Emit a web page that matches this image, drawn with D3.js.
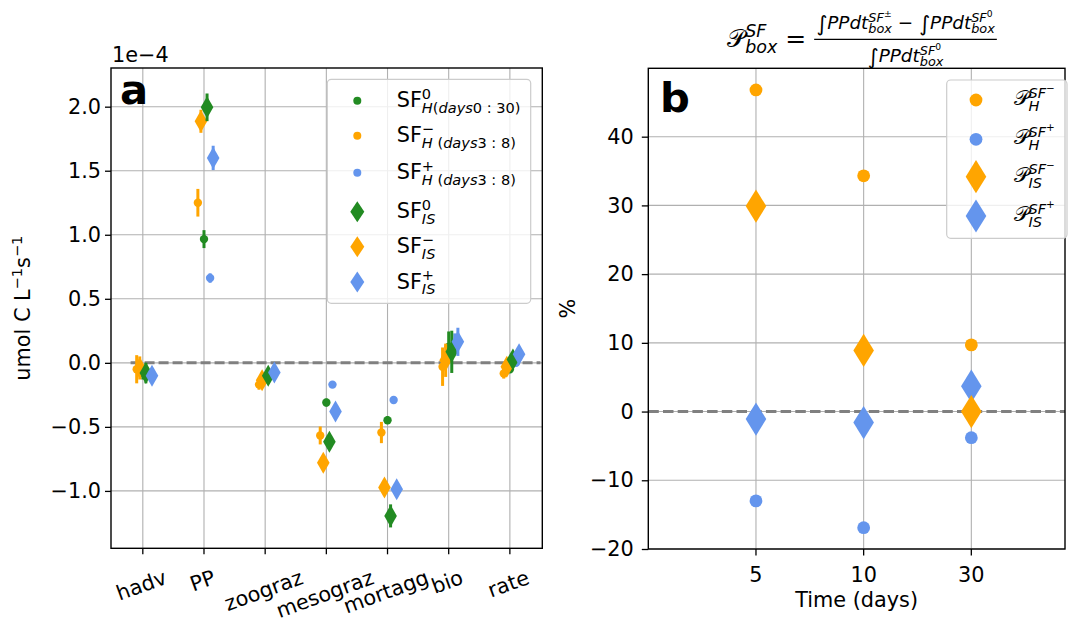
<!DOCTYPE html>
<html><head><meta charset="utf-8">
<script src="https://cdn.jsdelivr.net/npm/d3@7"></script>
<style>
body{margin:0;background:#fff;}
text{font-family:"DejaVu Sans",sans-serif;white-space:pre;fill:#000;}
</style></head><body>
<svg id="chart" width="1069" height="619" xmlns="http://www.w3.org/2000/svg"></svg>
<script>
// ---------- data (panel a, units of 1e-4 umol C L-1 s-1) ----------
const categories = ["hadv","PP","zoograz","mesograz","mortagg","bio","rate"];
const sfH0      = [-0.08, 0.966, -0.12, -0.31, -0.448, 0.125, -0.05];
const sfH0Err   = [0.05, 0.07, 0.04, 0.03, 0.03, 0.12, 0.03];
const sfHminus  = [-0.05, 1.25, -0.17, -0.567, -0.544, -0.03, -0.083];
const sfHminusErr = [0.11, 0.108, 0.04, 0.07, 0.083, 0.15, 0.04];
const sfHplus   = [-0.09, 0.662, -0.09, -0.17, -0.29, 0.15, 0.0];
const sfHplusErr = [0.03, 0.037, 0.02, 0.01, 0.01, 0.08, 0.02];
const sfIS0     = [-0.08, 1.995, -0.10, -0.617, -1.195, 0.086, 0.027];
const sfIS0Err  = [0.08, 0.108, 0.04, 0.05, 0.09, 0.165, 0.03];
const sfISminus = [-0.04, 1.886, -0.135, -0.78, -0.973, 0.02, -0.03];
const sfISminusErr = [0.09, 0.09, 0.05, 0.03, 0.03, 0.13, 0.04];
const sfISplus  = [-0.10, 1.60, -0.075, -0.38, -0.987, 0.164, 0.068];
const sfISplusErr = [0.03, 0.095, 0.03, 0.03, 0.03, 0.11, 0.03];
const yTicksA = [-1.0, -0.5, 0.0, 0.5, 1.0, 1.5, 2.0];

// ---------- data (panel b, %) ----------
const days = ["5", "10", "30"];
const pHminus  = [46.8, 34.3, 9.7];
const pHplus   = [-13.0, -16.9, -3.8];
const pISminus = [29.9, 8.9, 0.0];
const pISplus  = [-1.1, -1.6, 3.7];
const yTicksB = [-20, -10, 0, 10, 20, 30, 40];

const GREEN = "#228b22", ORANGE = "#ffa500", BLUE = "#6495ed";
const GRID = "#b0b0b0";
const FS = 20.8;

const svg = d3.select("#chart");

// ---------- math text helper ----------
function drawMath(parent, runs, size) {
  const g = parent.append("g");
  function place(list, x) {
    for (const r of list) {
      if (r.stack) {
        const x0 = x; let maxX = x;
        for (const sub of r.stack) maxX = Math.max(maxX, place(sub, x0));
        x = maxX;
      } else {
        const t = g.append("text").attr("x", x).attr("y", r.dy || 0)
          .attr("font-size", size * (r.s || 1))
          .attr("font-style", r.it ? "italic" : "normal")
          .text(r.t);
        if (r.f) t.attr("font-family", r.f);
        x += t.node().getComputedTextLength() + (r.gap || 0);
      }
    }
    return x;
  }
  const w = place(runs, 0);
  return { g, w };
}

function diamondPath(hw, hh) {
  return `M0,${-hh}L${hw},0L0,${hh}L${-hw},0Z`;
}

// =================== PANEL A ===================
const A = { l: 111, r: 542.3, t: 68, b: 548.3 };
const xA = d3.scaleLinear().domain([-0.52, 6.53]).range([A.l, A.r]);
const yA = d3.scaleLinear().domain([-1.448, 2.302]).range([A.b, A.t]);
const gA = svg.append("g");

// grid
gA.selectAll(".vg").data(categories).join("line")
  .attr("x1", (d, i) => xA(i)).attr("x2", (d, i) => xA(i))
  .attr("y1", A.t).attr("y2", A.b).attr("stroke", GRID).attr("stroke-width", 1.1);
gA.selectAll(".hg").data(yTicksA).join("line")
  .attr("x1", A.l).attr("x2", A.r).attr("y1", d => yA(d)).attr("y2", d => yA(d))
  .attr("stroke", GRID).attr("stroke-width", 1.1);

// zero dashed line
gA.append("line").attr("x1", xA(-0.2)).attr("x2", xA(6.5)).attr("y1", yA(0)).attr("y2", yA(0))
  .attr("stroke", "#808080").attr("stroke-width", 3).attr("stroke-dasharray", "10,4");

function seriesA(vals, errs, color, off, shape) {
  const g = gA.append("g");
  vals.forEach((v, i) => {
    const cx = xA(i + off);
    g.append("line").attr("x1", cx).attr("x2", cx)
      .attr("y1", yA(v - errs[i])).attr("y2", yA(v + errs[i]))
      .attr("stroke", color).attr("stroke-width", 3);
    if (shape === "c") {
      g.append("circle").attr("cx", cx).attr("cy", yA(v)).attr("r", 4.2).attr("fill", color);
    } else {
      g.append("path").attr("d", diamondPath(6.3, 11)).attr("transform", `translate(${cx},${yA(v)})`).attr("fill", color);
    }
  });
}
seriesA(sfH0, sfH0Err, GREEN, 0, "c");
seriesA(sfHminus, sfHminusErr, ORANGE, -0.1, "c");
seriesA(sfHplus, sfHplusErr, BLUE, 0.1, "c");
seriesA(sfISminus, sfISminusErr, ORANGE, -0.05, "d");
seriesA(sfIS0, sfIS0Err, GREEN, 0.05, "d");
seriesA(sfISplus, sfISplusErr, BLUE, 0.15, "d");

// spines
gA.append("rect").attr("x", A.l).attr("y", A.t).attr("width", A.r - A.l).attr("height", A.b - A.t)
  .attr("fill", "none").attr("stroke", "#000").attr("stroke-width", 1.4);

// y ticks
const yAxisA = d3.axisLeft(yA).tickValues(yTicksA).tickSize(6).tickPadding(4).tickFormat(d3.format(".1f"));
const yaxA = gA.append("g").attr("transform", `translate(${A.l},0)`).call(yAxisA);
yaxA.select(".domain").remove();
yaxA.selectAll("text").attr("font-size", FS).attr("font-family", "DejaVu Sans");
yaxA.selectAll("line").attr("stroke-width", 1.3);

// x ticks
gA.selectAll(".xt").data(categories).join("line")
  .attr("x1", (d, i) => xA(i)).attr("x2", (d, i) => xA(i))
  .attr("y1", A.b).attr("y2", A.b + 6).attr("stroke", "#000").attr("stroke-width", 1.3);
categories.forEach((c, i) => {
  const t = gA.append("text").attr("font-size", FS).attr("text-anchor", "middle").attr("dy", "0.35em").text(c);
  const w = t.node().getComputedTextLength();
  const ang = 20 * Math.PI / 180;
  const H = w * Math.sin(ang) + FS * 1.17 * Math.cos(ang);
  const cx = xA(i) - 1.5, cy = 565 + H / 2;
  t.attr("x", cx).attr("y", cy).attr("transform", `rotate(-20,${cx},${cy})`);
});

// 1e-4
gA.append("text").attr("x", A.l + 1).attr("y", 61.5).attr("font-size", FS).text("1e\u22124");
// panel letter
gA.append("text").attr("x", 120).attr("y", 104).attr("font-size", 41.7).attr("font-weight", "bold").text("a");

// y label
const yl = gA.append("text").attr("transform", `translate(30,${(A.t + A.b) / 2}) rotate(-90)`)
  .attr("text-anchor", "middle").attr("font-size", FS);
yl.append("tspan").text("umol C L");
yl.append("tspan").attr("dy", -8).attr("font-size", FS * 0.7).text("\u22121");
yl.append("tspan").attr("dy", 8).text("s");
yl.append("tspan").attr("dy", -8).attr("font-size", FS * 0.7).text("\u22121");

// legend A
const legA = gA.append("g");
legA.append("rect").attr("x", 327.3).attr("y", 79.3).attr("width", 203.4).attr("height", 224)
  .attr("rx", 4).attr("fill", "#fff").attr("fill-opacity", 0.8).attr("stroke", "#cccccc").attr("stroke-width", 1.2);
const legARows = [
  { y: 100.7, color: GREEN, shape: "c", sup: "0", sub: [{ t: "H", it: 1 }, { t: "(" }, { t: "days", it: 1 }, { t: "0 : 30)" }] },
  { y: 135.7, color: ORANGE, shape: "c", sup: "\u2212", sub: [{ t: "H", it: 1 }, { t: " (" }, { t: "days", it: 1 }, { t: "3 : 8)" }] },
  { y: 172.7, color: BLUE, shape: "c", sup: "+", sub: [{ t: "H", it: 1 }, { t: " (" }, { t: "days", it: 1 }, { t: "3 : 8)" }] },
  { y: 211.7, color: GREEN, shape: "d", sup: "0", sub: [{ t: "IS", it: 1 }] },
  { y: 246.7, color: ORANGE, shape: "d", sup: "\u2212", sub: [{ t: "IS", it: 1 }] },
  { y: 282.0, color: BLUE, shape: "d", sup: "+", sub: [{ t: "IS", it: 1 }] },
];
legARows.forEach(r => {
  if (r.shape === "c") legA.append("circle").attr("cx", 357.3).attr("cy", r.y).attr("r", 4).attr("fill", r.color);
  else legA.append("path").attr("d", diamondPath(7, 10.5)).attr("transform", `translate(357.3,${r.y})`).attr("fill", r.color);
  const m = drawMath(legA, [{ t: "SF" }, { stack: [[{ t: r.sup, s: 0.7, dy: -8.8 }], r.sub.map(s => ({ t: s.t, it: s.it, s: 0.7, dy: 5.5 }))] }], FS);
  m.g.attr("transform", `translate(396.7,${r.y + 6.6})`);
});

// =================== PANEL B ===================
const B = { l: 648.3, r: 1065, t: 68.3, b: 549 };
const xB = d3.scaleLinear().domain([0, 3.87]).range([B.l, B.r]);
const yB = d3.scaleLinear().domain([-20, 49.95]).range([B.b, B.t]);
const gB = svg.append("g");

gB.selectAll(".vg").data(days).join("line")
  .attr("x1", (d, i) => xB(i + 1)).attr("x2", (d, i) => xB(i + 1))
  .attr("y1", B.t).attr("y2", B.b).attr("stroke", GRID).attr("stroke-width", 1.1);
gB.selectAll(".hg").data(yTicksB).join("line")
  .attr("x1", B.l).attr("x2", B.r).attr("y1", d => yB(d)).attr("y2", d => yB(d))
  .attr("stroke", GRID).attr("stroke-width", 1.1);
gB.append("line").attr("x1", B.l).attr("x2", B.r).attr("y1", yB(0)).attr("y2", yB(0))
  .attr("stroke", "#808080").attr("stroke-width", 3).attr("stroke-dasharray", "10.5,4.2");

function seriesB(vals, color, shape) {
  vals.forEach((v, i) => {
    const cx = xB(i + 1);
    if (shape === "c") gB.append("circle").attr("cx", cx).attr("cy", yB(v)).attr("r", 6.4).attr("fill", color);
    else gB.append("path").attr("d", diamondPath(10.3, 16.6)).attr("transform", `translate(${cx},${yB(v)})`).attr("fill", color);
  });
}
seriesB(pHminus, ORANGE, "c");
seriesB(pHplus, BLUE, "c");
seriesB(pISplus, BLUE, "d");
seriesB(pISminus, ORANGE, "d");

gB.append("rect").attr("x", B.l).attr("y", B.t).attr("width", B.r - B.l).attr("height", B.b - B.t)
  .attr("fill", "none").attr("stroke", "#000").attr("stroke-width", 1.4);

const yAxisB = d3.axisLeft(yB).tickValues(yTicksB).tickSize(6.5).tickPadding(8).tickFormat(d3.format("d"));
const yaxB = gB.append("g").attr("transform", `translate(${B.l},0)`).call(yAxisB);
yaxB.select(".domain").remove();
yaxB.selectAll("text").attr("font-size", FS).attr("font-family", "DejaVu Sans");
yaxB.selectAll("line").attr("stroke-width", 1.3);

gB.selectAll(".xt").data(days).join("line")
  .attr("x1", (d, i) => xB(i + 1)).attr("x2", (d, i) => xB(i + 1))
  .attr("y1", B.b).attr("y2", B.b + 6.5).attr("stroke", "#000").attr("stroke-width", 1.3);
gB.selectAll(".xl").data(days).join("text")
  .attr("x", (d, i) => xB(i + 1)).attr("y", 581.5).attr("text-anchor", "middle").attr("font-size", FS).text(d => d);

gB.append("text").attr("x", (B.l + B.r) / 2).attr("y", 607).attr("text-anchor", "middle").attr("font-size", FS).text("Time (days)");
gB.append("text").attr("transform", `translate(575,${(B.t + B.b) / 2}) rotate(-90)`).attr("text-anchor", "middle").attr("font-size", FS).text("%");
gB.append("text").attr("x", 660).attr("y", 111.7).attr("font-size", 41.7).attr("font-weight", "bold").text("b");

// legend B
const legB = gB.append("g");
legB.append("rect").attr("x", 946.7).attr("y", 80).attr("width", 120.3).attr("height", 158.3)
  .attr("rx", 4).attr("fill", "#fff").attr("fill-opacity", 0.8).attr("stroke", "#cccccc").attr("stroke-width", 1.2);
const legBRows = [
  { y: 100, color: ORANGE, shape: "c", sgn: "\u2212", sub: "H" },
  { y: 139.3, color: BLUE, shape: "c", sgn: "+", sub: "H" },
  { y: 176.7, color: ORANGE, shape: "d", sgn: "\u2212", sub: "IS" },
  { y: 216, color: BLUE, shape: "d", sgn: "+", sub: "IS" },
];
legBRows.forEach(r => {
  if (r.shape === "c") legB.append("circle").attr("cx", 976).attr("cy", r.y).attr("r", 6.4).attr("fill", r.color);
  else legB.append("path").attr("d", diamondPath(10.3, 16.6)).attr("transform", `translate(976,${r.y})`).attr("fill", r.color);
  const m = drawMath(legB, [{ t: "\ud835\udcab" }, { stack: [[{ t: "SF", it: 1, s: 0.7, dy: -7.5 }, { t: r.sgn, s: 0.5, dy: -13 }], [{ t: r.sub, it: 1, s: 0.7, dy: 6 }]] }], FS);
  m.g.attr("transform", `translate(1013.5,${r.y + 5})`);
});

// title B (fraction)
const tg = gB.append("g");
const left = drawMath(tg, [{ t: "\ud835\udcab" }, { stack: [[{ t: "SF", it: 1, s: 0.7, dy: -10 }], [{ t: "box", it: 1, s: 0.7, dy: 6 }]] }, { t: " = " }], 25);
const FF = 18.4;
const termSF = sgn => [{ t: "\u222b", s: 1.15, dy: 2 }, { t: "PPdt", it: 1 }, { stack: [[{ t: "SF", it: 1, s: 0.7, dy: -7 }, { t: sgn, s: 0.5, dy: -12 }], [{ t: "box", it: 1, s: 0.7, dy: 4 }]] }];
const num = drawMath(tg, [...termSF("\u00b1"), { t: " \u2212 " }, ...termSF("0")], FF);
const den = drawMath(tg, termSF("0"), FF);
const fracW = Math.max(num.w, den.w) + 4;
const total = left.w + fracW;
const x0 = 862 - total / 2;
left.g.attr("transform", `translate(${x0},47)`);
const fx = x0 + left.w;
num.g.attr("transform", `translate(${fx + (fracW - num.w) / 2},28.5)`);
den.g.attr("transform", `translate(${fx + (fracW - den.w) / 2},62)`);
tg.append("line").attr("x1", fx).attr("x2", fx + fracW).attr("y1", 39.3).attr("y2", 39.3).attr("stroke", "#000").attr("stroke-width", 1.3);
</script>
</body></html>
